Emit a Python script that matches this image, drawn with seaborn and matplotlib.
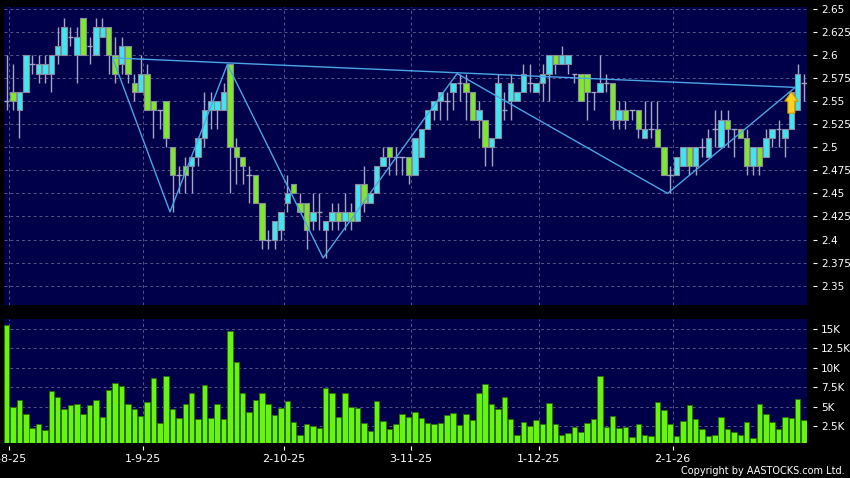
import matplotlib.pyplot as plt
import numpy as np
import pandas as pd
import seaborn as sns

# daily candles (HKD)
opens = [2.55, 2.56, 2.54, 2.56, 2.59, 2.58, 2.58, 2.58, 2.60, 2.60,
         2.62, 2.60, 2.64, 2.61, 2.60, 2.62, 2.63, 2.60, 2.59, 2.61,
         2.57, 2.56, 2.58, 2.55, 2.54, 2.55, 2.50, 2.47, 2.48, 2.48,
         2.49, 2.51, 2.54, 2.54, 2.54, 2.59, 2.50, 2.49, 2.47, 2.47,
         2.44, 2.40, 2.40, 2.41, 2.44, 2.46, 2.44, 2.44, 2.42, 2.43,
         2.41, 2.42, 2.43, 2.42, 2.43, 2.42, 2.46, 2.44, 2.45, 2.48,
         2.50, 2.49, 2.49, 2.49, 2.47, 2.49, 2.52, 2.54, 2.55, 2.55,
         2.56, 2.57, 2.57, 2.56, 2.53, 2.53, 2.50, 2.51, 2.54, 2.55,
         2.55, 2.56, 2.57, 2.56, 2.57, 2.58, 2.60, 2.59, 2.59, 2.58,
         2.58, 2.58, 2.56, 2.56, 2.57, 2.57, 2.53, 2.54, 2.54, 2.54,
         2.51, 2.52, 2.52, 2.50, 2.47, 2.47, 2.48, 2.50, 2.48, 2.50,
         2.49, 2.52, 2.50, 2.53, 2.52, 2.52, 2.51, 2.48, 2.50, 2.49,
         2.51, 2.52, 2.51, 2.52, 2.54, 2.57]
highs = [2.60, 2.59, 2.56, 2.60, 2.60, 2.60, 2.60, 2.60, 2.63, 2.64,
         2.63, 2.63, 2.64, 2.62, 2.64, 2.64, 2.63, 2.62, 2.62, 2.61,
         2.58, 2.60, 2.59, 2.55, 2.54, 2.55, 2.50, 2.48, 2.49, 2.49,
         2.51, 2.56, 2.56, 2.55, 2.57, 2.59, 2.51, 2.49, 2.48, 2.47,
         2.44, 2.41, 2.42, 2.43, 2.47, 2.46, 2.45, 2.44, 2.45, 2.45,
         2.42, 2.44, 2.44, 2.45, 2.44, 2.46, 2.48, 2.45, 2.48, 2.50,
         2.50, 2.50, 2.49, 2.49, 2.51, 2.52, 2.54, 2.55, 2.56, 2.56,
         2.57, 2.58, 2.58, 2.56, 2.55, 2.53, 2.51, 2.58, 2.56, 2.58,
         2.56, 2.59, 2.59, 2.57, 2.59, 2.60, 2.60, 2.61, 2.60, 2.58,
         2.58, 2.58, 2.56, 2.60, 2.58, 2.57, 2.55, 2.55, 2.54, 2.54,
         2.55, 2.55, 2.55, 2.50, 2.48, 2.49, 2.50, 2.50, 2.50, 2.51,
         2.52, 2.54, 2.54, 2.54, 2.52, 2.52, 2.52, 2.50, 2.50, 2.52,
         2.52, 2.53, 2.52, 2.56, 2.59, 2.58]
lows = [2.54, 2.54, 2.51, 2.56, 2.58, 2.57, 2.57, 2.56, 2.59, 2.60,
        2.61, 2.57, 2.60, 2.59, 2.60, 2.62, 2.58, 2.57, 2.58, 2.57,
        2.55, 2.56, 2.54, 2.51, 2.52, 2.50, 2.43, 2.45, 2.45, 2.45,
        2.48, 2.50, 2.52, 2.52, 2.54, 2.45, 2.46, 2.46, 2.44, 2.44,
        2.39, 2.39, 2.39, 2.40, 2.43, 2.45, 2.43, 2.39, 2.41, 2.41,
        2.38, 2.41, 2.41, 2.41, 2.41, 2.42, 2.43, 2.44, 2.45, 2.48,
        2.47, 2.47, 2.47, 2.46, 2.47, 2.49, 2.52, 2.53, 2.53, 2.53,
        2.54, 2.55, 2.53, 2.53, 2.51, 2.48, 2.48, 2.51, 2.53, 2.53,
        2.55, 2.56, 2.56, 2.56, 2.55, 2.55, 2.58, 2.59, 2.58, 2.57,
        2.55, 2.53, 2.54, 2.56, 2.56, 2.52, 2.52, 2.52, 2.53, 2.51,
        2.51, 2.51, 2.50, 2.47, 2.45, 2.47, 2.48, 2.47, 2.47, 2.49,
        2.49, 2.50, 2.50, 2.50, 2.49, 2.51, 2.47, 2.47, 2.47, 2.49,
        2.50, 2.50, 2.49, 2.52, 2.54, 2.55]
closes = [2.55, 2.55, 2.56, 2.60, 2.59, 2.59, 2.59, 2.60, 2.61, 2.63,
          2.62, 2.62, 2.60, 2.61, 2.63, 2.63, 2.60, 2.58, 2.61, 2.58,
          2.56, 2.58, 2.54, 2.54, 2.54, 2.51, 2.47, 2.47, 2.47, 2.49,
          2.51, 2.54, 2.55, 2.55, 2.56, 2.50, 2.49, 2.48, 2.47, 2.44,
          2.40, 2.40, 2.42, 2.43, 2.45, 2.45, 2.43, 2.41, 2.43, 2.43,
          2.42, 2.43, 2.42, 2.43, 2.42, 2.46, 2.44, 2.45, 2.48, 2.49,
          2.49, 2.49, 2.49, 2.47, 2.51, 2.52, 2.54, 2.55, 2.56, 2.55,
          2.57, 2.57, 2.56, 2.53, 2.54, 2.50, 2.51, 2.57, 2.54, 2.57,
          2.56, 2.58, 2.57, 2.57, 2.58, 2.60, 2.59, 2.60, 2.60, 2.58,
          2.55, 2.56, 2.56, 2.57, 2.57, 2.53, 2.54, 2.53, 2.54, 2.52,
          2.52, 2.52, 2.50, 2.47, 2.47, 2.49, 2.50, 2.48, 2.50, 2.50,
          2.51, 2.52, 2.53, 2.52, 2.52, 2.51, 2.48, 2.50, 2.48, 2.51,
          2.52, 2.52, 2.52, 2.56, 2.58, 2.57]
# volume in thousands of shares
volumes_k = [15.5, 4.9, 5.9, 4.0, 2.2, 2.7, 2.0, 7.0, 6.3, 4.7,
             5.2, 5.3, 4.1, 5.2, 5.8, 3.6, 7.1, 8.1, 7.7, 5.4,
             4.7, 3.8, 5.6, 8.7, 2.9, 8.9, 4.7, 3.5, 5.3, 6.7,
             3.4, 7.8, 3.5, 5.3, 3.4, 14.7, 10.7, 6.7, 4.3, 5.9,
             6.8, 5.3, 3.9, 4.8, 5.7, 3.0, 1.3, 2.8, 2.5, 2.2,
             7.4, 6.8, 3.6, 6.7, 5.0, 4.8, 2.9, 1.9, 5.7, 3.2,
             2.1, 2.8, 4.1, 3.7, 4.3, 3.5, 2.9, 2.7, 2.9, 3.9,
             4.2, 2.6, 4.1, 3.3, 6.7, 7.9, 5.4, 4.7, 6.3, 3.4,
             1.3, 3.0, 2.5, 3.3, 2.7, 5.5, 2.7, 1.4, 1.6, 2.4,
             1.7, 2.9, 3.4, 9.0, 2.4, 3.8, 2.2, 2.4, 1.1, 2.8,
             1.4, 1.2, 5.6, 4.6, 2.7, 1.2, 3.2, 5.2, 3.4, 2.1,
             1.2, 1.3, 3.7, 2.1, 1.7, 1.3, 3.0, 0.9, 5.4, 4.1,
             3.0, 2.1, 3.6, 3.5, 6.0, 3.3]

date_idx = [0, 21, 43, 63, 83, 104]
date_labels = ["1-8-25", "1-9-25", "2-10-25", "3-11-25", "1-12-25", "2-1-26"]
price_ticks = [2.35, 2.375, 2.4, 2.425, 2.45, 2.475, 2.5, 2.525, 2.55,
               2.575, 2.6, 2.625, 2.65]
price_labels = ["2.35", "2.375", "2.4", "2.425", "2.45", "2.475", "2.5",
                "2.525", "2.55", "2.575", "2.6", "2.625", "2.65"]
vol_ticks = [2.5, 5, 7.5, 10, 12.5, 15]
vol_labels = ["2.5K", "5K", "7.5K", "10K", "12.5K", "15K"]

# zig-zag swing points and the line joining first and last swing
pivot_idx = [17, 26, 35, 50, 71, 104, 124]
pivot_price = [2.597, 2.43, 2.59, 2.38, 2.58, 2.45, 2.565]
signal_idx = 123
signal_low, signal_high = 2.537, 2.56

NAVY = "#00004a"
GRID = "#56568a"
UP = "#3fe6f2"
DOWN = "#7ee82a"
VOL = "#66f511"
LINE = "#4aa6e6"

sns.set_theme(style="dark")
plt.rcParams["font.family"] = ["DejaVu Sans"]

df = pd.DataFrame({"i": np.arange(len(opens)), "open": opens, "high": highs,
                   "low": lows, "close": closes, "vol": volumes_k})
df["bottom"] = df[["open", "close"]].min(axis=1)
df["body"] = (df["close"] - df["open"]).abs()
df["up"] = df["close"] > df["open"]

fig = plt.figure(figsize=(8.5, 4.78), dpi=100, facecolor="black")
ax = fig.add_axes([4 / 850, 1 - 305 / 478, 803.3 / 850, 298.3 / 478])
axv = fig.add_axes([4 / 850, 1 - 443.3 / 478, 803.3 / 850, 124.3 / 478])

# volume bars
sns.barplot(data=df, x="i", y="vol", ax=axv, color=VOL, saturation=1,
            width=0.86, edgecolor="#2c6e00", linewidth=0.6, errorbar=None)

# candles
ax.vlines(df["i"], df["low"], df["high"], color="#a4a4c4", lw=1, zorder=2)
body = df[df["body"] > 0]
ax.bar(body["i"], body["body"], bottom=body["bottom"], width=0.86,
       color=np.where(body["up"], UP, DOWN), edgecolor="#8a8a9a",
       linewidth=0.8, zorder=3)
doji = df[df["body"] == 0]
ax.hlines(doji["open"], doji["i"] - 0.43, doji["i"] + 0.43, color="#a4a4c4",
          lw=1, zorder=3)

# trend lines
piv = pd.DataFrame({"x": np.array(pivot_idx) - 0.4, "p": pivot_price})
sns.lineplot(data=piv, x="x", y="p", ax=ax, color=LINE, lw=1, sort=False,
             zorder=4)
ends = piv.iloc[[0, -1]]
sns.lineplot(data=ends, x="x", y="p", ax=ax, color=LINE, lw=1, sort=False,
             zorder=4)

ax.arrow(signal_idx, signal_low, 0, signal_high - signal_low, width=1.1,
         head_width=2.1, head_length=0.01, length_includes_head=True,
         fc="#ffd322", ec="#c99400", lw=0.8, zorder=5)

grid_x = np.array(date_idx) + 0.4
for a in (ax, axv):
    a.set_facecolor(NAVY)
    for s in a.spines.values():
        s.set_visible(False)
    a.set_xlim(-0.42, 125.5)
    a.set_xlabel("")
    a.set_ylabel("")
    a.yaxis.tick_right()
    a.spines["right"].set_position(("outward", 4))
    a.tick_params(axis="y", colors="white", labelsize=7.5, length=3,
                  width=0.8, pad=3, right=True, left=False)
    a.set_xticks(grid_x)
    a.grid(True, color=GRID, linestyle=(0, (3, 3)), lw=0.7)
    a.set_axisbelow(True)

ax.set_ylim(2.329, 2.6525)
ax.set_yticks(price_ticks, price_labels)
ax.tick_params(axis="x", length=0, labelbottom=False)

axv.set_ylim(0.27, 16.3)
axv.set_yticks(vol_ticks, vol_labels)
axv.set_xticklabels(date_labels)
axv.spines["bottom"].set_position(("outward", 2))
axv.tick_params(axis="x", colors="white", labelsize=8, length=3, width=0.8,
                pad=3, bottom=True)

fig.text(845 / 850, 1 - 471 / 478, "Copyright by AASTOCKS.com Ltd.",
         color="white", fontsize=7, ha="right", va="center")

fig.savefig("out.png", dpi=100, facecolor="black")
